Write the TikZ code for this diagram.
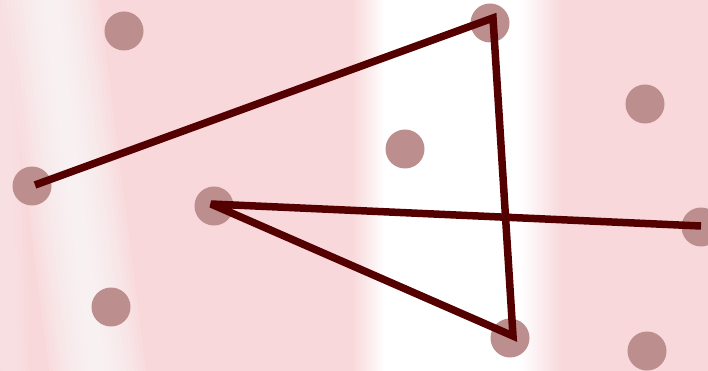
\documentclass[tikz,border=0pt]{standalone}
\begin{document}
\begin{tikzpicture}[x=1pt,y=-1pt,
  dotnode/.style={circle,fill=dotc,inner sep=0pt,minimum size=39pt},
  pathline/.style={draw=linec,line width=7.5pt,line join=miter,miter limit=2.5}]
\definecolor{bgpink}{HTML}{F8D8DB}
\definecolor{dotc}{HTML}{BC8E8E}
\definecolor{linec}{HTML}{550000}
\useasboundingbox (0,0) rectangle (708,371);
\clip (0,0) rectangle (708,371);
% background
\fill[bgpink] (0,0) rectangle (708,371);
\shade[left color=bgpink,right color=white] (352,0) rectangle (385,371);
\fill[white] (385,0) rectangle (520,371);
\shade[left color=white,right color=bgpink] (520,0) rectangle (562,371);
\foreach \w in {96,88,...,8}{
  \draw[white,opacity=0.11,line width=\w pt] (48,-20) -- (100,390);
}
\foreach \w in {40,32,...,8}{
  \draw[white,opacity=0.06,line width=\w pt] (0,-20) -- (10,390);
}
% dots
\node[dotnode] (d1) at (124,31) {};
\node[dotnode] (d2) at (32,186) {};
\node[dotnode] (d3) at (490,23) {};
\node[dotnode] (d4) at (405,149) {};
\node[dotnode] (d5) at (645,104) {};
\node[dotnode] (d6) at (214,206) {};
\node[dotnode] (d7) at (111,307) {};
\node[dotnode] (d8) at (510,338) {};
\node[dotnode] (d9) at (701,227) {};
\node[dotnode] (d10) at (647,351) {};
% path vertices
\coordinate (p1) at (35,185);
\coordinate (p2) at (493,18);
\coordinate (p3) at (513,336);
\coordinate (p4) at (211,204);
\coordinate (p5) at (701,226);
\draw[pathline] (p1) -- (p2) -- (p3) -- (p4) -- (p5);
\end{tikzpicture}
\end{document}
